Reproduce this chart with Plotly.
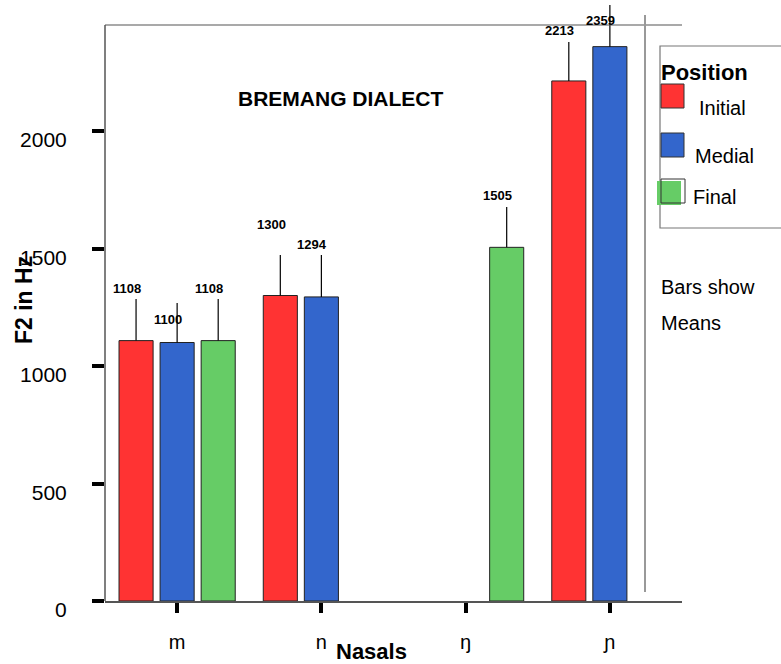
import plotly.graph_objects as go

# ---- data ----
categories = ["m", "n", "ŋ", "ɲ"]
initial_means = [1108, 1300, None, 2213]
medial_means = [1100, 1294, None, 2359]
final_means = [1108, None, 1505, None]
initial_err = [177, 172, 0, 166]
medial_err = [168, 178, 0, 177]
final_err = [177, 0, 172, 0]
y_ticks = [0, 500, 1000, 1500, 2000]
series_names = ["Initial", "Medial", "Final"]
series_colors = ["#FF3333", "#3366CC", "#66CC66"]

# ---- style / layout ----
W, H = 781, 664
L, R, T, B = 105, 99, 0, 63
PX_PER_UNIT = 0.235
Y_MAX = (H - T - B) / PX_PER_UNIT
BARGAP = 0.146
BARGROUPGAP = 0.17
# per-label vertical nudges (pixels), (series index, category index) -> shift
LABEL_NUDGE = {(0, 1): 20, (1, 0): -27, (1, 3): -26}

def px_x(p):
    return (p - L) / (W - L - R)

def px_y(p):
    return (H - B - p) / (H - T - B)

FONT = "Liberation Sans, Arial, sans-serif"

fig = go.Figure()
all_means = [initial_means, medial_means, final_means]
all_errs = [initial_err, medial_err, final_err]
for name, color, vals, errs in zip(series_names, series_colors, all_means, all_errs):
    fig.add_trace(go.Bar(
        x=categories, y=vals, name=name,
        marker=dict(color=color, line=dict(color="#222222", width=1)),
        error_y=dict(type="data", symmetric=False, array=errs,
                     arrayminus=[0] * len(errs), color="black",
                     thickness=1.2, width=0),
        showlegend=False, hoverinfo="skip",
    ))

annotations = []
n_series = len(all_means)
for s, (vals, errs) in enumerate(zip(all_means, all_errs)):
    for i, (v, e) in enumerate(zip(vals, errs)):
        if v is None:
            continue
        offset = (s - (n_series - 1) / 2) * (1 - BARGAP) / n_series
        annotations.append(dict(
            x=i + offset, y=v + e, xref="x", yref="y",
            text=f"<b>{v}</b>", showarrow=False,
            font=dict(family=FONT, size=13, color="black"),
            xshift=-9, yshift=11 + LABEL_NUDGE.get((s, i), 0), yanchor="middle",
        ))

annotations.append(dict(x=px_x(340), y=px_y(99), xref="paper", yref="paper",
                        text="<b>BREMANG DIALECT</b>", showarrow=False,
                        font=dict(family=FONT, size=21, color="black"),
                        xanchor="center", yanchor="middle"))
annotations.append(dict(x=px_x(24), y=px_y(300), xref="paper", yref="paper",
                        text="<b>F2 in Hz</b>", showarrow=False, textangle=-90,
                        font=dict(family=FONT, size=23, color="black"),
                        xanchor="center", yanchor="middle"))
annotations.append(dict(x=px_x(371), y=px_y(651), xref="paper", yref="paper",
                        text="<b>Nasals</b>", showarrow=False,
                        font=dict(family=FONT, size=22, color="black"),
                        xanchor="center", yanchor="middle"))
annotations.append(dict(x=px_x(659), y=px_y(72), xref="paper", yref="paper",
                        text="<b>Position</b>", showarrow=False,
                        font=dict(family=FONT, size=22, color="black"),
                        xanchor="left", yanchor="middle"))
for txt, lx, ly in [("Initial", 697, 108), ("Medial", 693, 156), ("Final", 691, 197),
                    ("Bars show", 659, 287), ("Means", 659, 323)]:
    annotations.append(dict(x=px_x(lx), y=px_y(ly), xref="paper", yref="paper",
                            text=txt, showarrow=False,
                            font=dict(family=FONT, size=20, color="black"),
                            xanchor="left", yanchor="middle"))

shapes = []
shapes.append(dict(type="line", xref="paper", yref="paper", x0=0, x1=1,
                   y0=px_y(25), y1=px_y(25), line=dict(color="#555555", width=1.2)))
shapes.append(dict(type="line", xref="paper", yref="paper", x0=0, x1=0,
                   y0=0, y1=px_y(25), line=dict(color="#555555", width=1.5)))
shapes.append(dict(type="line", xref="paper", yref="paper", x0=px_x(645), x1=px_x(645),
                   y0=px_y(15), y1=px_y(592), line=dict(color="#999999", width=2)))
shapes.append(dict(type="rect", xref="paper", yref="paper", x0=px_x(660), x1=px_x(800),
                   y0=px_y(228), y1=px_y(46), line=dict(color="#777777", width=1.2)))
shapes.append(dict(type="rect", xref="paper", yref="paper", x0=px_x(661), x1=px_x(684),
                   y0=px_y(108), y1=px_y(84), fillcolor=series_colors[0],
                   line=dict(color="#333333", width=1)))
shapes.append(dict(type="rect", xref="paper", yref="paper", x0=px_x(661), x1=px_x(684),
                   y0=px_y(157), y1=px_y(133), fillcolor=series_colors[1],
                   line=dict(color="#333333", width=1)))
shapes.append(dict(type="rect", xref="paper", yref="paper", x0=px_x(657), x1=px_x(681),
                   y0=px_y(205), y1=px_y(181), fillcolor=series_colors[2],
                   line=dict(width=0)))
shapes.append(dict(type="rect", xref="paper", yref="paper", x0=px_x(661), x1=px_x(685),
                   y0=px_y(203), y1=px_y(179), fillcolor="rgba(0,0,0,0)",
                   line=dict(color="#333333", width=1)))

fig.update_layout(
    width=W, height=H,
    margin=dict(l=L, r=R, t=T, b=B, pad=0, autoexpand=False),
    paper_bgcolor="white", plot_bgcolor="white",
    barmode="group", bargap=BARGAP, bargroupgap=BARGROUPGAP,
    showlegend=False,
    font=dict(family=FONT, size=20, color="black"),
    annotations=annotations, shapes=shapes,
    xaxis=dict(type="category", range=[-0.5, 3.5], showgrid=False, zeroline=False,
               showline=True, linecolor="#555555", linewidth=1.5,
               ticks="outside", ticklen=10, tickwidth=4, tickcolor="black",
               ticklabelstandoff=12, automargin=False,
               tickfont=dict(family=FONT, size=20, color="black")),
    yaxis=dict(range=[0, Y_MAX], showgrid=False, zeroline=False, showline=False,
               tickvals=y_ticks, ticktext=[str(v) for v in y_ticks],
               ticks="outside", ticklen=12, tickwidth=4, tickcolor="black",
               ticklabelstandoff=21, ticklabelshift=9, automargin=False,
               tickfont=dict(family=FONT, size=21, color="black")),
)

fig.write_html("out.html", config={"displayModeBar": False},
               post_script="document.body.style.margin='0';document.body.style.padding='0';")
